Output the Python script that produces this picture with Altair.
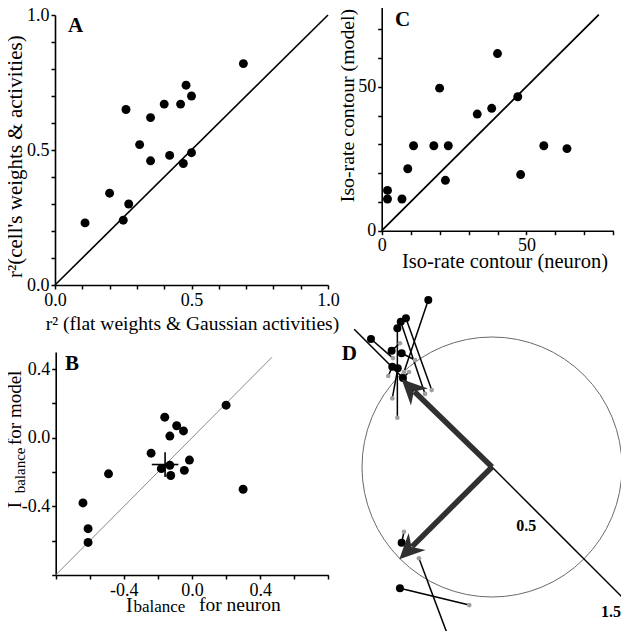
import altair as alt
import pandas as pd

FONT = "Liberation Serif"
W, H = 613, 623

# ---------------- data ----------------
# Panel A
a_x = [0.11, 0.20, 0.25, 0.27, 0.26, 0.31, 0.35, 0.35, 0.40, 0.42, 0.46, 0.47, 0.48, 0.50, 0.50, 0.69]
a_y = [0.23, 0.34, 0.24, 0.30, 0.65, 0.52, 0.46, 0.62, 0.67, 0.48, 0.67, 0.45, 0.74, 0.70, 0.49, 0.82]
a_diag = [0.0, 1.0]

# Panel B
b_x = [-0.64, -0.61, -0.61, -0.49, -0.24, -0.16, -0.18, -0.13, -0.13, -0.125, -0.09, -0.05, -0.045, -0.015, 0.20, 0.30]
b_y = [-0.38, -0.53, -0.61, -0.21, -0.09, 0.12, -0.18, -0.16, 0.01, -0.22, 0.07, 0.04, -0.19, -0.13, 0.19, -0.30]
b_mean = [-0.158, -0.156]
b_err = [0.078, 0.072]
b_diag = [-0.8, 0.47]

# Panel C
c_x = [2, 2, 7, 9, 11, 18, 20, 22, 23, 33, 38, 40, 47, 48, 56, 64]
c_y = [14, 11, 11, 21.5, 29.5, 29.5, 49.5, 17.5, 29.5, 40.5, 42.5, 61.5, 46.5, 19.5, 29.5, 28.5]
c_diag = [0, 75]

# Panel D (units: circle radius = 1)
d_black_u = [-0.490, -0.662, -0.702, -0.728, -0.931, -0.772, -0.695, -0.767, -0.725, -0.685, -0.695, -0.341, -0.708]
d_black_v = [1.285, 1.144, 1.118, 1.067, 0.985, 0.895, 0.875, 0.772, 0.759, 0.685, -0.582, -1.292, -0.933]
d_gray_u = [-0.677, -0.464, -0.515, -0.728, -0.762, -0.708, -0.592, -0.798, -0.767, -0.638, -0.677, -0.562, -0.175]
d_gray_v = [0.731, 0.592, 0.562, 0.379, 0.838, 0.952, 0.823, 0.700, 0.528, 0.731, -0.498, -0.702, -1.062]
d_arrow_u = [-0.695, -0.713]
d_arrow_v = [0.675, -0.710]
d_arrow_angle = [315, 225]
d_axis_u = [-1.06, 1.06]
d_axis_v = [1.06, -1.06]
d_lab = ["0.5", "1.5"]
d_lab_u = [0.263, 0.915]
d_lab_v = [-0.452, -1.113]

# ---------------- helpers ----------------
def sc(domain, rng):
    return alt.Scale(domain=domain, range=rng, nice=False, zero=False)

def txt(s, x, y, size, angle=0, align="left", baseline="alphabetic", weight="normal"):
    return alt.Chart(pd.DataFrame({"t": [s]})).mark_text(
        font=FONT, fontSize=size, angle=angle, align=align, baseline=baseline,
        fontWeight=weight, color="black").encode(text="t:N", x=alt.value(x), y=alt.value(y))

def frange(a, b, step, nd=1):
    n = int(round((b - a) / step))
    return [round(a + i * step, nd) for i in range(n + 1)]

layers = []

# ---------------- Panel A ----------------
sAx = sc([0, 1], [47, 320])
sAy = sc([0, 1], [277, 7])
labA = "abs(datum.value*2 - round(datum.value*2)) < 0.000001 ? format(datum.value, '.1f') : ''"
dfA = pd.DataFrame({"x": a_x, "y": a_y})
layers.append(alt.Chart(dfA).mark_circle(size=80, color="black", opacity=1).encode(
    x=alt.X("x:Q", scale=sAx, axis=alt.Axis(orient="bottom", offset=277 - H, values=frange(0, 1, 0.1), labelExpr=labA, title=None)),
    y=alt.Y("y:Q", scale=sAy, axis=alt.Axis(orient="left", offset=-47, values=frange(0, 1, 0.1), labelExpr=labA, title=None)),
))
layers.append(alt.Chart(pd.DataFrame({"x": a_diag, "y": a_diag})).mark_line(color="black", strokeWidth=1.6).encode(
    x=alt.X("x:Q", scale=sAx, axis=None), y=alt.Y("y:Q", scale=sAy, axis=None)))
layers.append(txt("A", 60, 24, 21, weight="bold"))
layers.append(txt("r²  (flat weights & Gaussian activities)", 184.5, 322, 19.5, align="center"))
layers.append(txt("r²(cell's weights & activities)", 14, 148.7, 21, angle=270, align="center"))

# ---------------- Panel C ----------------
sCx = sc([0, 80], [373.7, 605.3])
sCy = sc([0, 80], [222.7, -7.7])
labC = "datum.value % 50 === 0 ? datum.value : ''"
dfC = pd.DataFrame({"x": c_x, "y": c_y})
layers.append(alt.Chart(dfC).mark_circle(size=80, color="black", opacity=1).encode(
    x=alt.X("x:Q", scale=sCx, axis=alt.Axis(orient="bottom", offset=222.7 - H, values=list(range(0, 81, 10)), labelExpr=labC, title=None)),
    y=alt.Y("y:Q", scale=sCy, axis=alt.Axis(orient="left", offset=-373.7, values=list(range(0, 81, 10)), labelExpr=labC, title=None)),
))
layers.append(alt.Chart(pd.DataFrame({"x": c_diag, "y": c_diag})).mark_line(color="black", strokeWidth=1.8).encode(
    x=alt.X("x:Q", scale=sCx, axis=None), y=alt.Y("y:Q", scale=sCy, axis=None)))
layers.append(txt("C", 387, 18, 21, weight="bold"))
layers.append(txt("Iso-rate contour (neuron)", 497, 260, 20.5, align="center"))
layers.append(txt("Iso-rate contour (model)", 346, 97.5, 19.8, angle=270, align="center"))

# ---------------- Panel B ----------------
sBx = sc([-0.8, 0.8], [47.7, 320.3])
sBy = sc([-0.8, 0.5], [567, 344])
labB = ("abs(datum.value) < 0.000001 ? '0.0' : (abs(abs(datum.value) - 0.4) < 0.000001 ? "
        "(datum.value < 0 ? '-0.4' : '0.4') : '')")
dfB = pd.DataFrame({"x": b_x, "y": b_y})
layers.append(alt.Chart(pd.DataFrame({"x": b_diag, "y": b_diag})).mark_line(color="#8a8a8a", strokeWidth=1).encode(
    x=alt.X("x:Q", scale=sBx, axis=None), y=alt.Y("y:Q", scale=sBy, axis=None)))
layers.append(alt.Chart(dfB).mark_circle(size=80, color="black", opacity=1).encode(
    x=alt.X("x:Q", scale=sBx, axis=alt.Axis(orient="bottom", offset=567 - H, values=frange(-0.8, 0.8, 0.2), labelExpr=labB, title=None)),
    y=alt.Y("y:Q", scale=sBy, axis=alt.Axis(orient="left", offset=-47.7, values=frange(-0.8, 0.4, 0.2), labelExpr=labB, title=None)),
))
dfBm = pd.DataFrame({"mx": [b_mean[0]], "my": [b_mean[1]],
                     "x1": [b_mean[0] - b_err[0]], "x2": [b_mean[0] + b_err[0]],
                     "y1": [b_mean[1] - b_err[1]], "y2": [b_mean[1] + b_err[1]]})
layers.append(alt.Chart(dfBm).mark_rule(color="black", strokeWidth=1.6).encode(
    x=alt.X("x1:Q", scale=sBx, axis=None), x2="x2:Q", y=alt.Y("my:Q", scale=sBy, axis=None)))
layers.append(alt.Chart(dfBm).mark_rule(color="black", strokeWidth=1.6).encode(
    y=alt.Y("y1:Q", scale=sBy, axis=None), y2="y2:Q", x=alt.X("mx:Q", scale=sBx, axis=None)))
layers.append(txt("B", 57, 362, 21, weight="bold"))
layers.append(txt("I", 118, 604, 20))
layers.append(txt("balance", 125.5, 604.2, 17))
layers.append(txt("for neuron", 191, 603, 19.5))
layers.append(txt("I", 12.5, 500.3, 19, angle=270))
layers.append(txt("balance", 16.5, 485.3, 15, angle=270))
layers.append(txt("for model", 12.5, 437, 19, angle=270))

# ---------------- Panel D ----------------
sDx = sc([-1, 1], [354, 614])
sDy = sc([-1, 1], [589, 329])
RPX = 130
layers.append(alt.Chart(pd.DataFrame({"u": [0.0], "v": [0.0]})).mark_point(
    shape="circle", size=(2 * RPX) ** 2, filled=False, color="#6a6a6a", strokeWidth=1, opacity=1).encode(
    x=alt.X("u:Q", scale=sDx, axis=None), y=alt.Y("v:Q", scale=sDy, axis=None)))
dfAx = pd.DataFrame({"u1": [d_axis_u[0]], "v1": [d_axis_v[0]], "u2": [d_axis_u[1]], "v2": [d_axis_v[1]]})
layers.append(alt.Chart(dfAx).mark_rule(color="black", strokeWidth=1.5).encode(
    x=alt.X("u1:Q", scale=sDx, axis=None), y=alt.Y("v1:Q", scale=sDy, axis=None), x2="u2:Q", y2="v2:Q"))
dfP = pd.DataFrame({"bu": d_black_u, "bv": d_black_v, "gu": d_gray_u, "gv": d_gray_v})
layers.append(alt.Chart(dfP).mark_rule(color="black", strokeWidth=1.5).encode(
    x=alt.X("bu:Q", scale=sDx, axis=None), y=alt.Y("bv:Q", scale=sDy, axis=None), x2="gu:Q", y2="gv:Q"))
layers.append(alt.Chart(dfP).mark_circle(size=22, color="#a0a0a0", opacity=1).encode(
    x=alt.X("gu:Q", scale=sDx, axis=None), y=alt.Y("gv:Q", scale=sDy, axis=None)))
layers.append(alt.Chart(dfP).mark_circle(size=64, color="black", opacity=1).encode(
    x=alt.X("bu:Q", scale=sDx, axis=None), y=alt.Y("bv:Q", scale=sDy, axis=None)))
# arrows: shaft stops short of the tip so the head covers it
shaft = []
for u, v in zip(d_arrow_u, d_arrow_v):
    L = (u * u + v * v) ** 0.5
    k = 1 - (18 / RPX) / L
    shaft.append((u * k, v * k))
dfSh = pd.DataFrame({"u0": [0.0, 0.0], "v0": [0.0, 0.0],
                     "u1": [s[0] for s in shaft], "v1": [s[1] for s in shaft]})
layers.append(alt.Chart(dfSh).mark_rule(color="#303030", strokeWidth=5.5).encode(
    x=alt.X("u0:Q", scale=sDx, axis=None), y=alt.Y("v0:Q", scale=sDy, axis=None), x2="u1:Q", y2="v1:Q"))
ARROW = "M0,0 L0.5,1.05 L0,0.72 L-0.5,1.05 Z"
for u, v, a in zip(d_arrow_u, d_arrow_v, d_arrow_angle):
    layers.append(alt.Chart(pd.DataFrame({"u": [u], "v": [v]})).mark_point(
        shape=ARROW, size=2300, filled=True, color="#303030", opacity=1, angle=a, strokeWidth=0).encode(
        x=alt.X("u:Q", scale=sDx, axis=None), y=alt.Y("v:Q", scale=sDy, axis=None)))
dfL = pd.DataFrame({"t": d_lab, "u": d_lab_u, "v": d_lab_v})
layers.append(alt.Chart(dfL).mark_text(font=FONT, fontSize=16, fontWeight="bold", color="black",
                                       align="center", baseline="middle").encode(
    x=alt.X("u:Q", scale=sDx, axis=None), y=alt.Y("v:Q", scale=sDy, axis=None), text="t:N"))
layers.append(txt("D", 333.7, 352, 21, weight="bold"))

chart = alt.layer(*layers).resolve_scale(x="independent", y="independent").properties(
    width=W, height=H, autosize=alt.AutoSizeParams(type="none"), padding=0
).configure_view(stroke=None).configure_axis(
    grid=False, labelFont=FONT, labelFontSize=18, labelColor="black", labelPadding=2,
    tickColor="black", tickSize=4, tickWidth=1.5, domainColor="black", domainWidth=1.6,
    labelOverlap=False, labelBound=False, labelFlush=False
)

chart.save("out.html", embed_options={"renderer": "svg", "actions": False})
